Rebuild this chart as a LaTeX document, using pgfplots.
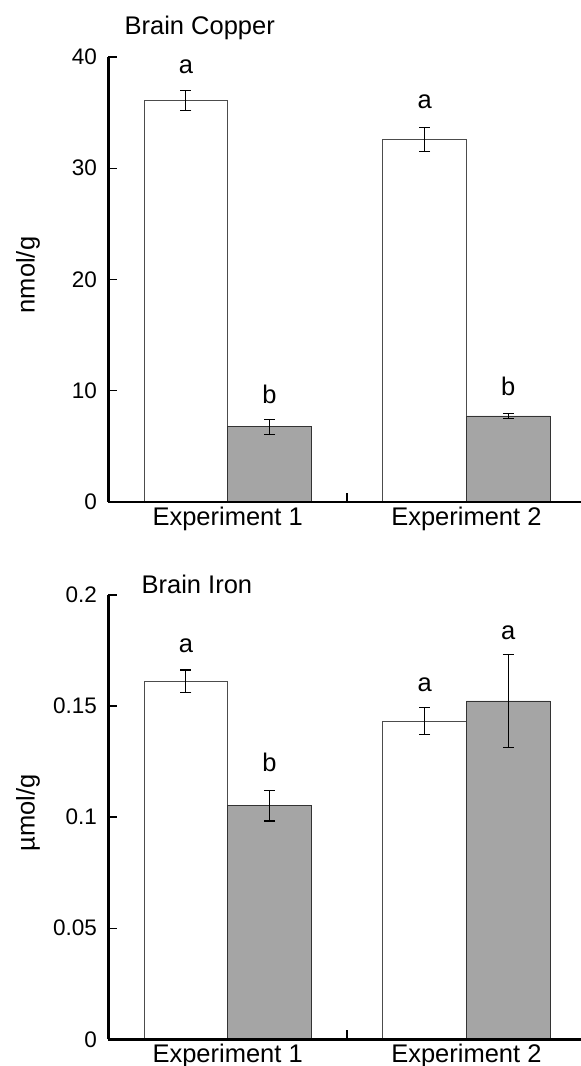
\documentclass[border=0pt]{standalone}
\usepackage{fontspec}
\setmainfont{Liberation Sans}
\usepackage{pgfplots}
\pgfplotsset{compat=1.18}
\definecolor{barg}{HTML}{A5A5A5}
\newcommand{\lbl}{\fontsize{25.5}{30}\selectfont}
\newcommand{\tck}{\fontsize{22.5}{27}\selectfont}
\pgfplotsset{
 mybar/.style={
  width=472.7pt, scale only axis, xmin=-0.5, xmax=1.48,
  axis x line=bottom, axis y line=left,
  axis line style={-, line width=2.4pt, black},
  ymin=0, ybar=0pt, bar width=83.7pt,
  xtick={0,1}, xticklabels={Experiment 1,Experiment 2},
  xtick style={draw=none},
  extra x ticks={0.5}, extra x tick labels={},
  extra x tick style={xtick style={draw=black, line width=1.3pt}},
  tick align=inside, major tick length=9pt,
  ytick style={line width=1.3pt, black},
  xticklabel style={font=\lbl, inner sep=0pt, anchor=north, yshift=-4.7pt},
  yticklabel style={font=\tck, inner sep=0pt, anchor=east, xshift=-11.3pt},
  /pgf/number format/assume math mode=true,
  scaled y ticks=false,
  ylabel style={font=\lbl, at={(axis description cs:-0.17,0.51)}, anchor=center},
  clip=false, axis on top,
  error bars/y dir=both, error bars/y explicit,
  error bars/error mark options={rotate=90, mark size=5.5pt, line width=1.2pt, black},
  error bars/error bar style={line width=1.2pt, black},
 },
 wbar/.style={fill=white, draw=black!70, line width=0.9pt},
 gbar/.style={fill=barg, draw=black!80, line width=0.9pt},
}
\begin{document}
\begin{tikzpicture}
\path[use as bounding box] (0,0) rectangle (581pt,1066pt);
% Top: Brain Copper
\begin{axis}[mybar, at={(108.3pt,564pt)}, anchor=south west, height=445pt,
  ymax=40, ytick={0,10,20,30,40}, yticklabels={0,10,20,30,40}, ylabel={nmol/g}]
\addplot[wbar] coordinates {(0,36.06) +- (0,0.9) (1,32.59) +- (0,1.07)};
\addplot[gbar] coordinates {(0,6.77) +- (0,0.68) (1,7.73) +- (0,0.24)};
\node[anchor=base, font=\lbl] at (axis cs:-0.175,38.54) {a};
\node[anchor=base, font=\lbl] at (axis cs:0.175,8.89) {b};
\node[anchor=base, font=\lbl] at (axis cs:0.825,35.4) {a};
\node[anchor=base, font=\lbl] at (axis cs:1.175,9.61) {b};
\node[anchor=base, font=\lbl] at (axis cs:-0.117,42.02) {Brain Copper};
\end{axis}
% Bottom: Brain Iron
\begin{axis}[mybar, at={(108.3pt,26.7pt)}, anchor=south west, height=444.3pt,
  ymax=0.2, ytick={0,0.05,0.1,0.15,0.2}, yticklabels={0,0.05,0.1,0.15,0.2}, ylabel={µmol/g}]
\addplot[wbar] coordinates {(0,0.1611) +- (0,0.0051) (1,0.1432) +- (0,0.006)};
\addplot[gbar] coordinates {(0,0.1051) +- (0,0.0068) (1,0.1523) +- (0,0.021)};
\node[anchor=base, font=\lbl] at (axis cs:-0.175,0.174) {a};
\node[anchor=base, font=\lbl] at (axis cs:0.175,0.1204) {b};
\node[anchor=base, font=\lbl] at (axis cs:0.825,0.1564) {a};
\node[anchor=base, font=\lbl] at (axis cs:1.175,0.1799) {a};
\node[anchor=base, font=\lbl] at (axis cs:-0.129,0.2005) {Brain Iron};
\end{axis}
\end{tikzpicture}
\end{document}
